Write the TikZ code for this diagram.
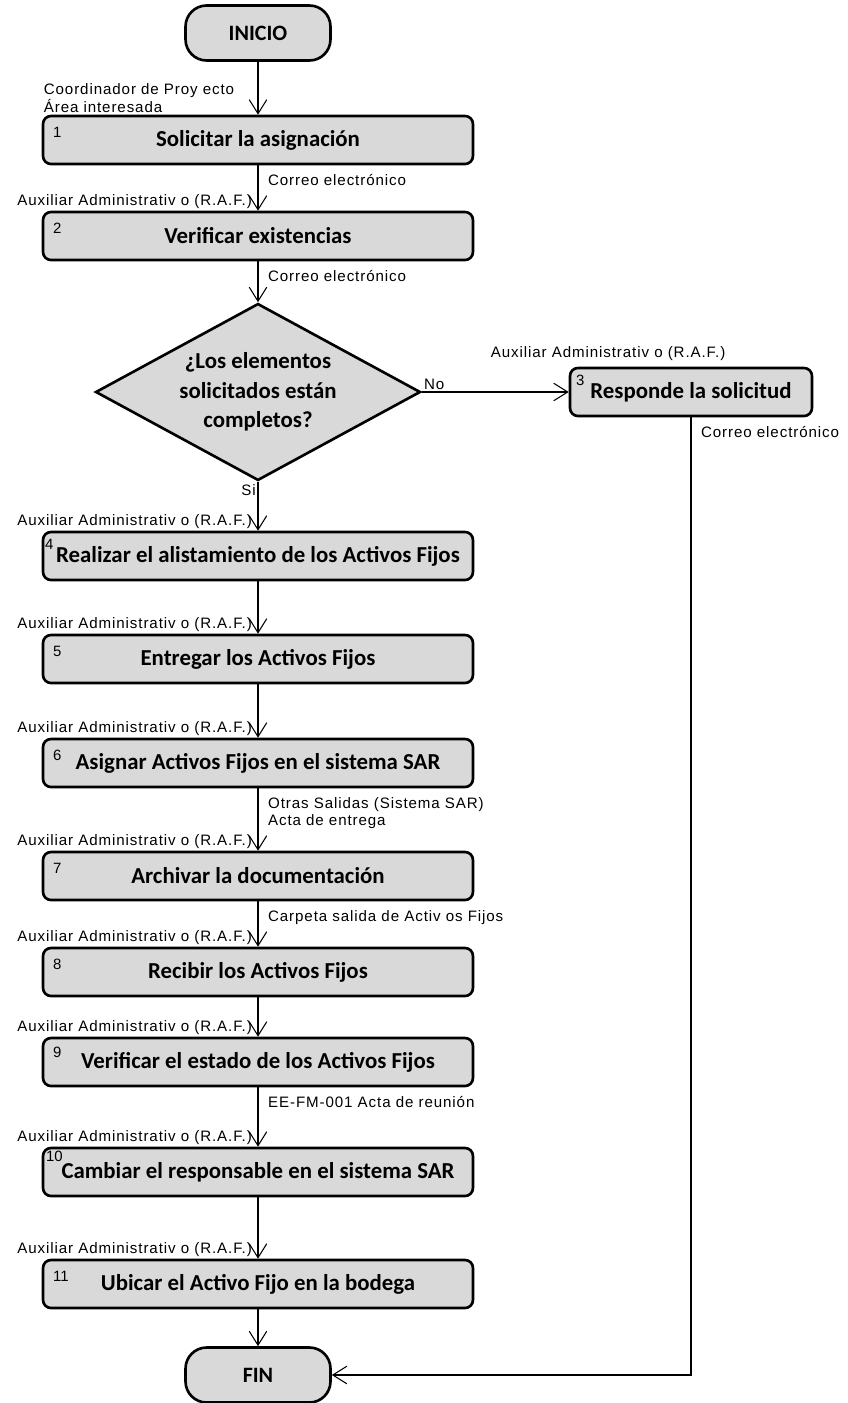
\documentclass[tikz,border=0pt]{standalone}
\usepackage{fontspec}
\setmainfont{Liberation Sans}
\newfontfamily\etqfont[LetterSpace=6]{Liberation Sans}
\newfontfamily\cajafont{Carlito}
\usetikzlibrary{shapes.geometric,arrows.meta,calc}

\begin{document}
\begin{tikzpicture}[x=0.02cm, y=-0.02cm,
    caja/.style={draw, line width=1.5pt, rounded corners=4.5pt, fill=black!15,
        minimum width=8.6cm, minimum height=0.96cm, inner sep=0pt,
        font=\cajafont\bfseries\fontsize{13}{16}\selectfont},
    terminal/.style={caja, rounded corners=12pt, minimum width=2.9cm, minimum height=1.1cm,
        font=\cajafont\bfseries\fontsize{12.5}{15}\selectfont},
    decision/.style={diamond, aspect=1.84, draw, line width=1.5pt, fill=black!15, inner sep=0pt,
        minimum width=6.5cm, minimum height=3.54cm, align=center,
        font=\cajafont\bfseries\fontsize{13}{16.8}\selectfont},
    flecha/.style={line width=0.6pt, -{Straight Barb[length=8pt,width=10pt]}},
    etq/.style={font=\etqfont\fontsize{8.6}{10}\selectfont, inner sep=1pt},
    entrada/.style={etq, anchor=south east, xshift=-0.08cm},
    salida/.style={etq, anchor=north west, align=left, xshift=0.16cm, yshift=-0.14cm},
    num/.style={font=\fontsize{8.5}{9}\selectfont, inner sep=0pt, anchor=north west}]
    \useasboundingbox (0,0) rectangle (848,1403);

    % --- Inicio y primeras actividades ---
    \node[terminal] (inicio) at (258,33) {INICIO};
    \node[caja] (p1) at (258,140) {Solicitar la asignación};
    \node[caja] (p2) at (258,236) {Verificar existencias};

    % decision y respuesta
    \node[decision] (d1) at (258,392) {¿Los elementos\\solicitados están\\completos?};
    \node[caja, minimum width=4.84cm] (p3) at (691,392) {Responde la solicitud};

    % --- Actividades de asignacion ---
    \node[caja] (p4) at (258,556) {Realizar el alistamiento de los Activos Fijos};
    \node[caja] (p5) at (258,659) {Entregar los Activos Fijos};
    \node[caja] (p6) at (258,763) {Asignar Activos Fijos en el sistema SAR};
    \node[caja] (p7) at (258,876) {Archivar la documentación};
    \node[caja] (p8) at (258,972) {Recibir los Activos Fijos};
    \node[caja] (p9) at (258,1062) {Verificar el estado de los Activos Fijos};
    \node[caja] (p10) at (258,1172) {Cambiar el responsable en el sistema SAR};
    \node[caja] (p11) at (258,1284) {Ubicar el Activo Fijo en la bodega};
    \node[terminal] (fin) at (258,1375) {FIN};

    % numeros de las actividades
    \foreach \n/\dx/\dy in {1/11/12, 2/11/12, 3/7/8, 4/3/8, 5/11/12, 6/11/12,
                            7/11/12, 8/11/12, 9/11/10, 10/4/4, 11/11/12}
        \node[num] (n\n) at ($(p\n.north west)+(\dx,\dy)$) {\n};

    % --- Flechas ---
    \draw[flecha] (inicio) -- (p1);
    \draw[flecha] (p1) -- (p2);
    \draw[flecha] (p2) -- (d1);
    \draw[flecha] (d1) -- (p3) node[etq, pos=0, above right] (no) {No};
    \draw[flecha] (d1) -- (p4) node[etq, pos=0, below left] (si) {Si};
    \draw[flecha] (p4) -- (p5);
    \draw[flecha] (p5) -- (p6);
    \draw[flecha] (p6) -- (p7);
    \draw[flecha] (p7) -- (p8);
    \draw[flecha] (p8) -- (p9);
    \draw[flecha] (p9) -- (p10);
    \draw[flecha] (p10) -- (p11);
    \draw[flecha] (p11) -- (fin);
    \draw[flecha] (p3) |- (fin);

    % --- Responsables (entradas) ---
    \node[etq, anchor=south west, align=left] (solicitante) at (p1.north west)
        {Coordinador de Proy ecto\\Área interesada};
    \foreach \p in {p2,p4,p5,p6,p7,p8,p9,p10,p11}
        \node[entrada] (aux-\p) at (\p.north) {Auxiliar Administrativ o (R.A.F.)};
    \node[etq, anchor=south west] (aux-p3) at ([xshift=-1.6cm, yshift=0.08cm]p3.north west)
        {Auxiliar Administrativ o (R.A.F.)};

    % --- Registros (salidas) ---
    \node[salida] (s1) at (p1.south) {Correo electrónico};
    \node[salida] (s2) at (p2.south) {Correo electrónico};
    \node[salida] (s3) at (p3.south) {Correo electrónico};
    \node[salida] (s6) at (p6.south) {Otras Salidas  (Sistema SAR)\\Acta de entrega};
    \node[salida] (s7) at (p7.south) {Carpeta salida de Activ os Fijos};
    \node[salida] (s9) at (p9.south) {EE-FM-001 Acta de reunión};
\end{tikzpicture}
\end{document}
